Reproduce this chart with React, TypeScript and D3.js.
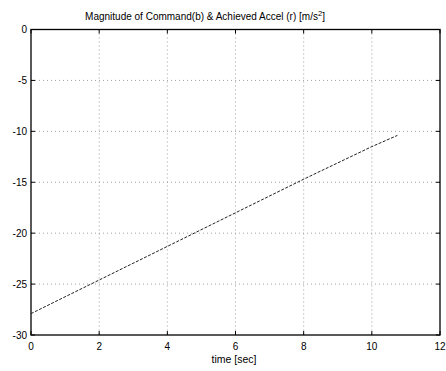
import React from "react";
import * as d3 from "d3";

const times = [0, 2, 4, 6, 8, 10, 10.75];
const accel = [-27.9, -24.6, -21.3, -18.0, -14.7, -11.5, -10.4];
const xTicks = [0, 2, 4, 6, 8, 10, 12];
const yTicks = [0, -5, -10, -15, -20, -25, -30];
const titleText = "Magnitude of Command(b) & Achieved Accel (r) [m/s";
const xLabel = "time [sec]";

export default function App() {
  const W = 446, H = 371;
  const left = 31, right = 440, top = 29.5, bottom = 335;
  const x = d3.scaleLinear().domain([0, 12]).range([left, right]);
  const y = d3.scaleLinear().domain([-30, 0]).range([bottom, top]);
  const line = d3.line<number>().x((_, i) => x(times[i])).y((d) => y(d));
  const font = "Arial, 'Liberation Sans', sans-serif";
  return (
    <svg width={W} height={H} style={{ position: "absolute", left: 0, top: 0, background: "#fff" }}>
      <rect width={W} height={H} fill="#fff" />
      {xTicks.slice(1, -1).map((t) => (
        <line key={"gx" + t} x1={x(t)} x2={x(t)} y1={top} y2={bottom} stroke="#888" strokeWidth={0.8} strokeDasharray="1,3" />
      ))}
      {yTicks.slice(1, -1).map((t) => (
        <line key={"gy" + t} x1={left} x2={right} y1={y(t)} y2={y(t)} stroke="#888" strokeWidth={0.8} strokeDasharray="1,3" />
      ))}
      {xTicks.map((t) => (
        <g key={"tx" + t}>
          <line x1={x(t)} x2={x(t)} y1={bottom} y2={bottom - 4} stroke="#000" />
          <line x1={x(t)} x2={x(t)} y1={top} y2={top + 4} stroke="#000" />
          <text x={x(t)} y={349.5} textAnchor="middle" fontSize={10} fontFamily={font} fill="#000">{t}</text>
        </g>
      ))}
      {yTicks.map((t) => (
        <g key={"ty" + t}>
          <line x1={left} x2={left + 4} y1={y(t)} y2={y(t)} stroke="#000" />
          <line x1={right} x2={right - 4} y1={y(t)} y2={y(t)} stroke="#000" />
          <text x={27} y={y(t) + 3.5} textAnchor="end" fontSize={10} fontFamily={font} fill="#000">{t}</text>
        </g>
      ))}
      <rect x={left} y={top} width={right - left} height={bottom - top} fill="none" stroke="#000" strokeWidth={1.3} />
      <path d={line(accel) || ""} fill="none" stroke="#222" strokeWidth={1} strokeDasharray="3,1.5" />
      <text x={205} y={19.5} textAnchor="middle" fontSize={10} fontFamily={font} fill="#000">
        {titleText}
        <tspan dy={-4} fontSize={7.5}>2</tspan>
        <tspan dy={4}>]</tspan>
      </text>
      <text x={234} y={363} textAnchor="middle" fontSize={10.5} fontFamily={font} fill="#000">{xLabel}</text>
    </svg>
  );
}
